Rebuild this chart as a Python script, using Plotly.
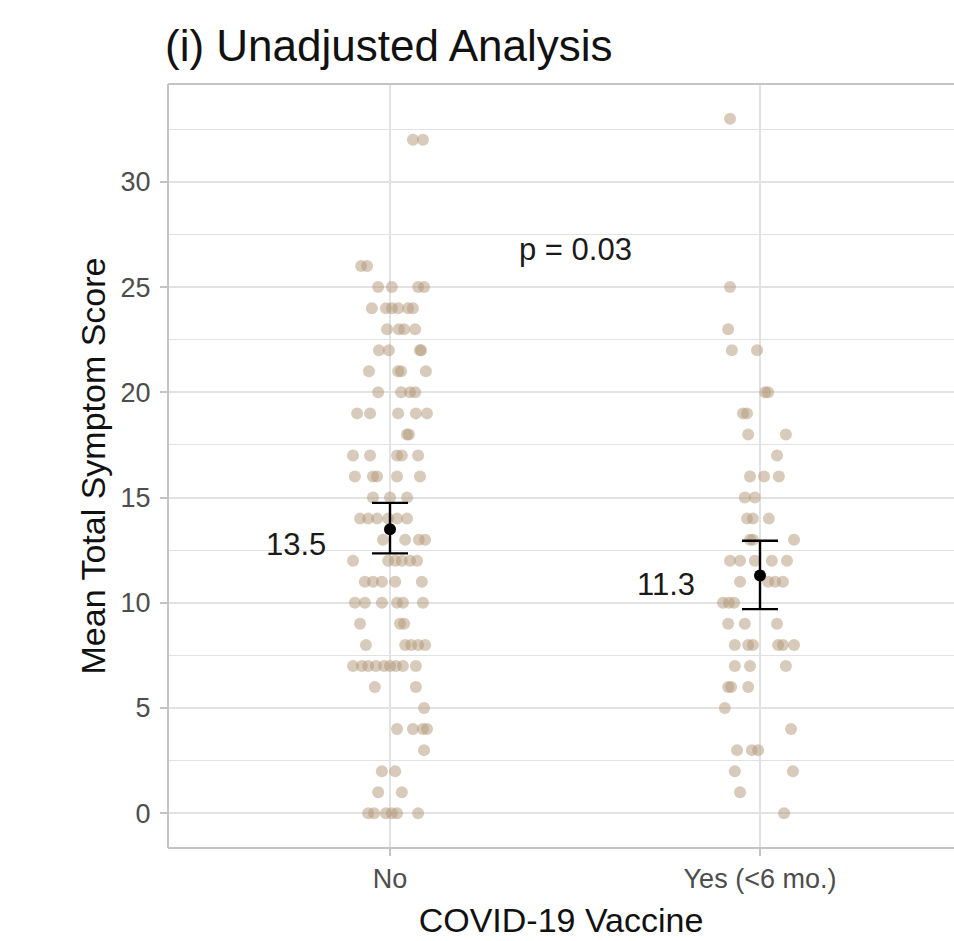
import plotly.graph_objects as go

# ---------------- data ----------------
categories = ["No", "Yes (<6 mo.)"]
cat_pos = [1, 2]

# "No" group: symptom scores and horizontal jitter (category units)
no_scores = [32, 32, 26, 26, 25, 25, 25, 25, 24, 24, 24, 24, 24, 24,
             23, 23, 23, 23, 22, 22, 22, 22, 21, 21, 21, 21, 20, 20, 20, 20,
             19, 19, 19, 19, 19, 18, 18, 17, 17, 17, 17, 17, 16, 16, 16, 16, 16,
             15, 15, 15, 14, 14, 14, 14, 14, 14, 13, 13, 13, 13,
             12, 12, 12, 12, 12, 12, 11, 11, 11, 11, 11, 10, 10, 10, 10, 10, 10,
             9, 9, 9, 8, 8, 8, 8, 8, 7, 7, 7, 7, 7, 7, 7, 7, 7,
             6, 6, 5, 4, 4, 4, 4, 3, 2, 2, 1, 1, 0, 0, 0, 0, 0, 0]
no_jitter = [0.062, 0.089, -0.078, -0.062, -0.032, 0.005, 0.076, 0.092,
             -0.049, -0.011, 0.005, 0.022, 0.049, 0.062,
             -0.008, 0.024, 0.038, 0.068, -0.030, -0.003, 0.081, 0.084,
             -0.057, 0.022, 0.030, 0.097, -0.032, 0.030, 0.054, 0.068,
             -0.089, -0.054, 0.022, 0.070, 0.100, 0.046, 0.051,
             -0.100, -0.054, 0.019, 0.032, 0.076, -0.095, -0.046, -0.035, 0.019, 0.081,
             -0.046, 0.000, 0.046, -0.081, -0.059, -0.035, -0.005, 0.019, 0.046,
             -0.019, 0.041, 0.078, 0.095,
             -0.100, -0.005, 0.014, 0.032, 0.054, 0.073,
             -0.068, -0.046, -0.022, 0.014, 0.086,
             -0.095, -0.068, -0.022, 0.019, 0.035, 0.089,
             -0.081, 0.027, 0.038, -0.065, 0.041, 0.057, 0.076, 0.095,
             -0.100, -0.076, -0.059, -0.038, -0.016, 0.000, 0.016, 0.035, 0.070,
             -0.041, 0.070, 0.092, 0.019, 0.062, 0.089, 0.100, 0.092,
             -0.022, 0.014, -0.032, 0.032,
             -0.059, -0.043, -0.011, 0.005, 0.019, 0.076]

# "Yes (<6 mo.)" group
yes_scores = [33, 25, 23, 22, 22, 20, 20, 19, 19, 18, 18, 17, 16, 16, 16,
              15, 15, 14, 14, 14, 13, 13, 13, 12, 12, 12, 12, 12,
              11, 11, 11, 11, 10, 10, 10, 9, 9, 9, 8, 8, 8, 8, 8, 8,
              7, 7, 7, 6, 6, 6, 5, 4, 3, 3, 3, 2, 2, 1, 0]
yes_jitter = [-0.081, -0.081, -0.086, -0.076, -0.008, 0.014, 0.022, -0.046, -0.035,
              -0.032, 0.070, 0.046, -0.027, 0.011, 0.051,
              -0.041, -0.014, -0.035, -0.019, 0.024, -0.027, -0.019, 0.092,
              -0.081, -0.054, -0.014, 0.032, 0.073,
              -0.054, 0.022, 0.041, 0.062, -0.100, -0.084, -0.070,
              -0.086, -0.041, 0.046, -0.068, -0.032, -0.019, 0.049, 0.062, 0.092,
              -0.068, -0.027, 0.070, -0.086, -0.078, -0.032, -0.095, 0.084,
              -0.062, -0.022, -0.005, -0.068, 0.089, -0.054, 0.065]

# group means and 95% CI
means = [13.5, 11.3]
ci_low = [12.35, 9.7]
ci_high = [14.75, 12.95]
mean_labels = ["13.5", "11.3"]
mean_label_y = [12.75, 10.85]
label_offset = -0.254
p_label = "p = 0.03"
p_pos = (1.5, 26.8)

# ---------------- figure ----------------
pt_color = "rgba(178,152,120,0.5)"
fig = go.Figure()

for pos, scores, jit in [(cat_pos[0], no_scores, no_jitter),
                         (cat_pos[1], yes_scores, yes_jitter)]:
    fig.add_trace(go.Scatter(
        x=[pos + j for j in jit], y=scores, mode="markers",
        marker=dict(size=12, color=pt_color, line=dict(width=0)),
        showlegend=False, hoverinfo="y"))

fig.add_trace(go.Scatter(
    x=cat_pos, y=means, mode="markers",
    marker=dict(size=12, color="black"),
    error_y=dict(type="data", symmetric=False,
                 array=[h - m for h, m in zip(ci_high, means)],
                 arrayminus=[m - l for l, m in zip(ci_low, means)],
                 color="black", thickness=2.4, width=18),
    showlegend=False))

for pos, ly, lab in zip(cat_pos, mean_label_y, mean_labels):
    fig.add_annotation(x=pos + label_offset, y=ly, text=lab, showarrow=False,
                       font=dict(size=31, color="#1a1a1a"),
                       xanchor="center", yanchor="middle")

fig.add_annotation(x=p_pos[0], y=p_pos[1], text=p_label, showarrow=False,
                   font=dict(size=31, color="#1a1a1a"),
                   xanchor="center", yanchor="middle")

grid_c = "#e2e2e2"
border_c = "#c4c4c4"

# panel border: left, top, bottom (right side lies beyond the visible page)
for x0, y0, x1, y1 in [(0, 0, 0, 1), (0, 1, 1.05, 1), (0, 0, 1.05, 0)]:
    fig.add_shape(type="line", xref="paper", yref="paper", x0=x0, y0=y0,
                  x1=x1, y1=y1, line=dict(color=border_c, width=2), layer="above")

fig.update_layout(
    width=954, height=941,
    margin=dict(l=168, r=0, t=84, b=93),
    plot_bgcolor="white", paper_bgcolor="white",
    font=dict(family="Liberation Sans, Arial, sans-serif"),
    title=dict(text="(i) Unadjusted Analysis", x=165 / 954, xanchor="left",
               xref="container", yref="container", y=1 - 46 / 941,
               yanchor="middle", font=dict(size=44, color="#111111")),
    xaxis=dict(range=[0.4, 1 + (954 - 390) / 370], tickvals=cat_pos,
               ticktext=categories, showgrid=True, gridcolor=grid_c, gridwidth=1.5,
               zeroline=False, showline=False,
               ticks="outside", ticklen=7, tickcolor=border_c,
               tickwidth=1.5,
               tickfont=dict(size=27, color="#4d4d4d"),
               title=dict(text="COVID-19 Vaccine", font=dict(size=34, color="#111111"),
                          standoff=14)),
    yaxis=dict(range=[-1.65, 34.65], tick0=0, dtick=5, showgrid=True,
               gridcolor=grid_c, gridwidth=1.5, zeroline=False,
               minor=dict(dtick=2.5, tick0=0, showgrid=True, gridcolor=grid_c,
                          gridwidth=1.2),
               showline=False,
               ticks="outside", ticklen=7, tickcolor=border_c, tickwidth=1.5,
               ticklabelstandoff=4,
               tickfont=dict(size=27, color="#4d4d4d"),
               title=dict(text="Mean Total Symptom Score",
                          font=dict(size=34, color="#111111"), standoff=4)),
)

fig.write_html("out.html",
               post_script="document.body.style.overflow='hidden';"
                           "document.documentElement.style.overflow='hidden';")
